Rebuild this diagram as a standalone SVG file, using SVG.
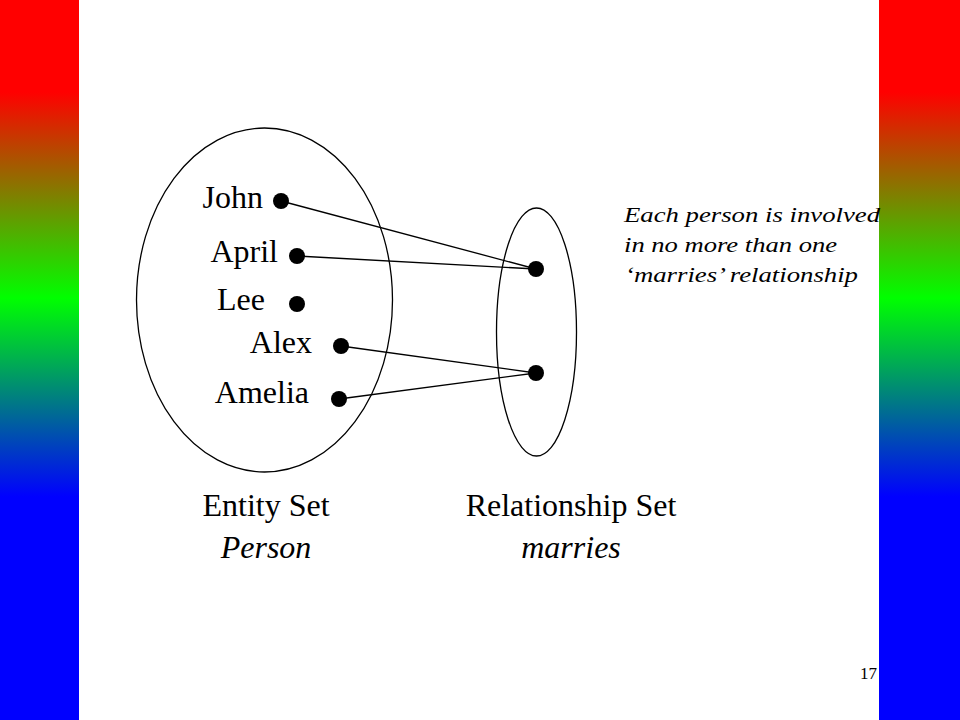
<svg xmlns="http://www.w3.org/2000/svg" width="960" height="720" viewBox="0 0 960 720">
<defs>
<linearGradient id="bar" x1="0" y1="0" x2="0" y2="720" gradientUnits="userSpaceOnUse">
<stop offset="0" stop-color="#ff0000"/>
<stop offset="0.128" stop-color="#ff0000"/>
<stop offset="0.414" stop-color="#00ff00"/>
<stop offset="0.69" stop-color="#0000ff"/>
<stop offset="1" stop-color="#0000ff"/>
</linearGradient>
</defs>
<style>
.set{fill:none;stroke:#000;stroke-width:1.3}
.dot{fill:#000}
.lbl{font-family:"Liberation Serif","Times New Roman",serif;font-size:32px;fill:#000}
.it{font-style:italic}
.note{font-family:"Liberation Serif","Times New Roman",serif;font-size:21px;font-style:italic;fill:#000}
.conn line{stroke:#000;stroke-width:1.3}
</style>
<rect width="960" height="720" fill="#fff"/>
<rect id="left-bar" x="0" y="0" width="79" height="720" fill="url(#bar)"/>
<rect id="right-bar" x="879" y="0" width="81" height="720" fill="url(#bar)"/>

<g id="entity-set">
<ellipse class="set" cx="264.5" cy="300" rx="128" ry="172"/>
<text class="lbl" x="266" y="516" text-anchor="middle">Entity Set</text>
<text class="lbl it" x="266" y="558" text-anchor="middle">Person</text>
</g>
<g id="relationship-set">
<ellipse class="set" cx="536.5" cy="332" rx="40" ry="124"/>
<text class="lbl" x="571" y="516" text-anchor="middle">Relationship Set</text>
<text class="lbl it" x="571" y="558" text-anchor="middle">marries</text>
</g>

<g class="conn" id="connectors">
<line x1="281" y1="201" x2="536" y2="269"/>
<line x1="297" y1="256" x2="536" y2="269"/>
<line x1="341" y1="346" x2="536" y2="373"/>
<line x1="339" y1="399" x2="536" y2="373"/>
</g>

<g id="john"><text class="lbl" x="263" y="208" text-anchor="end">John</text><circle class="dot" cx="281" cy="201" r="8"/></g>
<g id="april"><text class="lbl" x="278" y="262" text-anchor="end">April</text><circle class="dot" cx="297" cy="256" r="8"/></g>
<g id="lee"><text class="lbl" x="265" y="310" text-anchor="end">Lee</text><circle class="dot" cx="297" cy="304" r="8"/></g>
<g id="alex"><text class="lbl" x="312" y="353" text-anchor="end">Alex</text><circle class="dot" cx="341" cy="346" r="8"/></g>
<g id="amelia"><text class="lbl" x="309" y="403" text-anchor="end">Amelia</text><circle class="dot" cx="339" cy="399" r="8"/></g>
<g id="marriage-1"><circle class="dot" cx="536" cy="269" r="8"/></g>
<g id="marriage-2"><circle class="dot" cx="536" cy="373" r="8"/></g>

<g id="note">
<text class="note" x="624" y="222" textLength="256" lengthAdjust="spacingAndGlyphs">Each person is involved</text>
<text class="note" x="624" y="252" textLength="213" lengthAdjust="spacingAndGlyphs">in no more than one</text>
<text class="note" x="625" y="282" textLength="233" lengthAdjust="spacingAndGlyphs">‘marries’ relationship</text>
</g>

<text id="page-number" x="877" y="679" text-anchor="end" font-family="Liberation Serif, Times New Roman, serif" font-size="17" fill="#000">17</text>
</svg>
